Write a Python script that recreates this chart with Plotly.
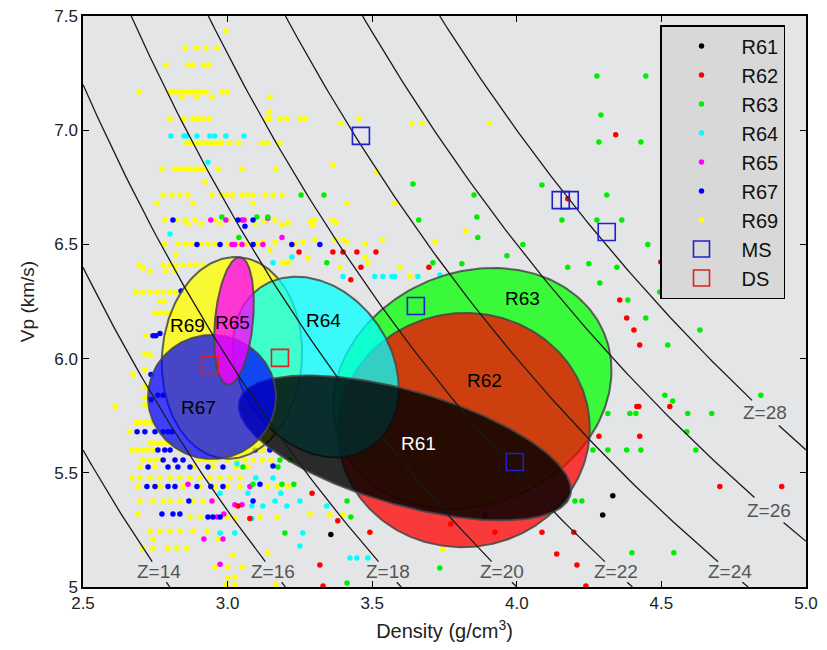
import numpy as np
import plotly.graph_objects as go

# ---------------- data ----------------
r61 = [(4.332, 5.40), (4.297, 5.315), (3.357, 5.23), (3.890, 5.315)]

r62 = [(3.247, 6.467), (3.364, 6.467), (3.399, 6.467), (3.447, 6.467), (3.513, 6.467),
       (3.461, 6.40), (3.696, 6.40), (3.426, 6.345), (4.342, 6.98), (4.176, 6.70),
       (3.292, 5.41), (3.036, 5.355), (3.077, 5.30), (3.381, 5.29), (3.492, 5.24),
       (3.319, 5.096), (3.330, 5.004), (3.772, 5.276), (3.924, 5.24), (4.087, 5.24),
       (4.197, 5.24), (4.138, 5.145), (4.208, 5.096), (4.239, 5.004),
       (4.415, 5.79), (4.422, 5.79), (4.529, 5.79), (4.284, 5.66), (4.425, 5.66),
       (4.702, 5.44), (4.916, 5.44),
       (4.356, 6.257), (4.380, 6.178), (4.405, 6.125), (4.425, 6.06), (4.498, 6.423),
       (4.522, 6.34)]

r63 = [(3.254, 6.716), (3.333, 6.716), (3.641, 6.764), (3.852, 6.716), (3.661, 6.607),
       (3.862, 6.62), (3.865, 6.53), (2.980, 6.62), (3.101, 6.62), (3.139, 6.62),
       (3.039, 6.53), (3.343, 6.42), (3.710, 6.42),
       (4.277, 7.237), (4.446, 7.237), (4.291, 7.067), (4.284, 6.948), (4.429, 6.948),
       (4.087, 6.76), (4.311, 6.716), (4.156, 6.607), (4.277, 6.607), (4.363, 6.607),
       (4.021, 6.50), (4.453, 6.50), (3.966, 6.45), (3.810, 6.415), (4.176, 6.40),
       (4.249, 6.415), (4.346, 6.40),
       (3.181, 5.556), (3.216, 5.556), (3.053, 5.525), (3.174, 5.525), (3.088, 5.45),
       (3.188, 5.45), (3.229, 5.45), (3.413, 5.377), (3.426, 5.306), (3.198, 5.236),
       (3.734, 5.083), (3.413, 5.018), (4.201, 5.377), (4.225, 5.377), (4.398, 5.15),
       (4.512, 5.84), (4.539, 5.814), (4.844, 5.84), (4.315, 5.76), (4.391, 5.76),
       (4.412, 5.76), (4.591, 5.76), (4.674, 5.76), (4.588, 5.68), (4.263, 5.60),
       (4.315, 5.60), (4.380, 5.60), (4.429, 5.60), (4.619, 5.60), (4.543, 5.15),
       (4.287, 6.331), (4.384, 6.257), (4.446, 6.178), (4.494, 6.292), (4.522, 6.06),
       (4.633, 6.125)]

r64 = [(2.804, 6.975), (2.849, 6.975), (2.859, 6.975), (2.894, 6.975), (2.939, 6.975),
       (2.956, 6.975), (2.994, 6.975), (3.057, 6.975), (2.932, 6.86), (2.801, 6.545),
       (3.222, 6.445), (3.157, 6.42), (3.399, 6.36), (3.509, 6.36), (3.537, 6.36),
       (3.568, 6.36), (3.578, 6.36), (3.658, 6.36), (3.734, 6.366),
       (3.032, 5.54), (3.098, 5.477), (3.157, 5.477), (2.974, 5.41), (3.070, 5.41),
       (3.184, 5.41), (3.084, 5.355), (3.122, 5.355), (3.164, 5.377), (3.205, 5.355),
       (3.250, 5.377), (3.343, 5.355), (3.084, 5.30), (2.974, 5.236), (3.025, 5.236),
       (3.260, 5.236), (3.250, 5.18), (3.423, 5.127), (3.447, 5.127), (3.485, 5.127)]

r65 = [(2.942, 6.607), (2.994, 6.607), (3.050, 6.607), (3.057, 6.607), (3.139, 6.615),
       (3.015, 6.50), (3.025, 6.50), (3.050, 6.50), (3.122, 6.50), (3.188, 6.53),
       (2.863, 5.45), (3.077, 5.44), (2.946, 5.377), (3.050, 5.36), (3.025, 5.36),
       (2.963, 5.306), (2.987, 5.32), (2.918, 5.21), (2.984, 5.21), (2.974, 5.10)]

r67 = [(2.811, 6.607), (3.036, 6.607), (3.088, 6.607), (3.060, 6.58),
       (2.894, 6.50), (2.974, 6.50), (3.088, 6.50), (3.222, 6.50), (3.319, 6.50),
       (2.839, 6.296), (2.742, 6.10), (2.752, 6.10), (2.766, 6.11), (2.735, 5.93),
       (2.759, 5.84), (2.777, 5.84), (2.735, 5.82),
       (2.687, 5.68), (2.714, 5.68), (2.749, 5.68), (2.777, 5.68), (2.794, 5.68), (2.808, 5.68),
       (2.759, 5.60), (2.783, 5.60), (2.801, 5.60), (3.095, 5.60), (3.146, 5.60),
       (2.777, 5.556), (2.818, 5.556), (2.846, 5.556), (3.157, 5.53),
       (2.725, 5.525), (2.794, 5.525), (2.828, 5.525), (2.870, 5.525), (2.932, 5.525), (2.984, 5.525),
       (2.721, 5.44), (2.749, 5.44), (2.794, 5.44), (2.818, 5.44), (2.894, 5.44), (2.942, 5.44),
       (2.984, 5.44), (3.112, 5.45), (2.866, 5.377), (3.088, 5.377),
       (2.773, 5.32), (2.811, 5.32), (2.835, 5.32), (2.932, 5.306), (2.949, 5.306), (2.974, 5.306)]

r69 = [(2.994, 7.434),
       (2.853, 7.36), (2.891, 7.36), (2.925, 7.36), (2.963, 7.36),
       (2.787, 7.285), (2.863, 7.285), (2.880, 7.285), (2.918, 7.285), (2.936, 7.285),
       (2.694, 7.167), (2.801, 7.167), (2.815, 7.167), (2.829, 7.167), (2.846, 7.167), (2.860, 7.167),
       (2.870, 7.167), (2.884, 7.167), (2.898, 7.167), (2.912, 7.167), (2.926, 7.167), (2.981, 7.167),
       (2.998, 7.167), (2.842, 7.145), (2.894, 7.145), (2.946, 7.145), (3.146, 7.145), (3.143, 7.08),
       (2.801, 7.05), (2.849, 7.05), (2.880, 7.05), (2.898, 7.05), (2.915, 7.05), (2.936, 7.05),
       (3.136, 7.05), (3.146, 7.05), (3.181, 7.05), (3.205, 7.05), (3.250, 7.05), (3.267, 7.05),
       (3.454, 7.05), (3.392, 7.03), (3.637, 7.03), (3.672, 7.03), (3.905, 7.03),
       (2.859, 6.944), (2.877, 6.944), (2.894, 6.944), (2.911, 6.944), (2.929, 6.944), (2.946, 6.944),
       (2.963, 6.944), (2.980, 6.944), (3.008, 6.944), (3.039, 6.944), (3.119, 6.944), (3.139, 6.944),
       (3.181, 6.944), (2.922, 6.773),
       (2.773, 6.83), (2.818, 6.83), (2.835, 6.83), (2.853, 6.83), (2.870, 6.83), (2.887, 6.83),
       (2.904, 6.83), (2.918, 6.83), (2.967, 6.83), (3.050, 6.83), (3.167, 6.83), (3.516, 6.817),
       (3.364, 6.848),
       (2.777, 6.716), (2.808, 6.716), (2.835, 6.716), (2.863, 6.716), (2.946, 6.716), (2.980, 6.716),
       (2.998, 6.716), (3.018, 6.716), (3.050, 6.716), (3.070, 6.716), (3.088, 6.716), (3.129, 6.716),
       (3.157, 6.716), (3.188, 6.716),
       (2.756, 6.68), (2.880, 6.68), (3.088, 6.68), (3.413, 6.68), (3.578, 6.68), (3.824, 6.56),
       (2.783, 6.607), (2.822, 6.607), (2.853, 6.607), (2.863, 6.59), (2.887, 6.607), (2.908, 6.59),
       (2.956, 6.607), (2.973, 6.59), (3.001, 6.607), (3.060, 6.607), (3.095, 6.59), (3.129, 6.60),
       (3.164, 6.607), (3.188, 6.585), (3.209, 6.595), (3.285, 6.60), (3.302, 6.607), (3.295, 6.585),
       (3.361, 6.607), (3.375, 6.595),
       (2.783, 6.502), (2.828, 6.502), (2.853, 6.502), (2.873, 6.502), (2.908, 6.502), (2.932, 6.502),
       (2.956, 6.502), (3.001, 6.502), (3.036, 6.502), (3.063, 6.502), (3.105, 6.502), (3.122, 6.51),
       (3.164, 6.51), (3.232, 6.502), (3.260, 6.51), (3.302, 6.52), (3.371, 6.52), (3.399, 6.52),
       (3.413, 6.51), (3.475, 6.502), (3.534, 6.52), (3.717, 6.51),
       (3.146, 6.475), (3.278, 6.44), (3.475, 6.445), (3.485, 6.42), (3.191, 6.42), (3.209, 6.42),
       (3.596, 6.40), (3.388, 6.40), (3.655, 6.36), (3.630, 6.36), (2.821, 6.454),
       (2.694, 6.41), (2.707, 6.397), (2.732, 6.384), (2.777, 6.41), (2.801, 6.41), (2.821, 6.41),
       (2.846, 6.41), (2.870, 6.41), (2.891, 6.41), (2.915, 6.41), (2.787, 6.384), (2.818, 6.384),
       (2.683, 6.29), (2.707, 6.29), (2.732, 6.29), (2.756, 6.29), (2.777, 6.29), (2.801, 6.29),
       (2.821, 6.29), (2.766, 6.25), (2.783, 6.25),
       (2.749, 6.20), (2.766, 6.20), (2.783, 6.20), (2.801, 6.20), (2.818, 6.20),
       (2.718, 6.10), (2.714, 6.02), (2.732, 6.016), (2.673, 5.93), (2.714, 5.95), (2.714, 5.876),
       (2.714, 5.83), (2.714, 5.797), (2.611, 5.79),
       (2.683, 5.72), (2.697, 5.72), (2.714, 5.72), (2.732, 5.72), (2.662, 5.68),
       (2.732, 5.63), (2.749, 5.63), (2.766, 5.63), (2.783, 5.63), (2.801, 5.63), (2.818, 5.63),
       (2.835, 5.63),
       (2.669, 5.60), (2.687, 5.60), (2.707, 5.60), (2.725, 5.60), (2.742, 5.60), (2.835, 5.60),
       (2.870, 5.60), (2.904, 5.60), (2.939, 5.60), (2.974, 5.60), (3.018, 5.60), (3.067, 5.60),
       (3.101, 5.60), (3.122, 5.60),
       (2.707, 5.556), (2.730, 5.556), (2.750, 5.556), (2.770, 5.556), (2.900, 5.556), (2.920, 5.556),
       (2.940, 5.556), (2.960, 5.556), (3.000, 5.556), (3.030, 5.556), (3.060, 5.556), (3.090, 5.556),
       (3.120, 5.556), (3.150, 5.556),
       (2.697, 5.525), (2.749, 5.525), (2.880, 5.525), (2.949, 5.525), (3.029, 5.525), (3.070, 5.525),
       (2.669, 5.477), (2.697, 5.477), (2.732, 5.477), (2.766, 5.477), (2.801, 5.477), (2.835, 5.477),
       (2.870, 5.477), (2.904, 5.477), (2.939, 5.477), (2.974, 5.477), (3.008, 5.477), (3.043, 5.477),
       (2.690, 5.44), (2.766, 5.44), (2.846, 5.44), (2.904, 5.44), (2.956, 5.44), (3.001, 5.44),
       (3.043, 5.44), (3.139, 5.44), (3.171, 5.44), (3.209, 5.44),
       (2.697, 5.377), (2.742, 5.377), (2.777, 5.377), (2.801, 5.377), (2.835, 5.377), (2.880, 5.377),
       (2.915, 5.377), (2.949, 5.377),
       (3.285, 5.32), (3.354, 5.316), (3.399, 5.316),
       (2.690, 5.32), (2.870, 5.306), (2.904, 5.306), (2.998, 5.306), (3.025, 5.30), (3.112, 5.306),
       (3.171, 5.306),
       (2.732, 5.245), (2.766, 5.245), (2.801, 5.245), (2.835, 5.245), (2.880, 5.245), (2.929, 5.245),
       (2.967, 5.21), (2.742, 5.21),
       (2.707, 5.17), (2.742, 5.17), (2.794, 5.17), (2.825, 5.17), (2.859, 5.17),
       (3.139, 5.15), (3.018, 5.14), (2.956, 5.088), (3.001, 5.088), (3.050, 5.088),
       (3.001, 5.04), (3.025, 5.044), (2.994, 5.01), (3.025, 5.01), (3.167, 5.01), (3.744, 5.166)]

ms_rho = [3.461, 4.152, 4.183, 4.311, 3.651, 3.993]
ms_vp = [6.975, 6.694, 6.694, 6.554, 6.230, 5.547]
ds_rho = [2.939, 3.181]
ds_vp = [5.972, 6.003]

# impedance iso-lines Z = density * Vp
z_levels = [14, 16, 18, 20, 22, 24, 26, 28]
z_label_vp = [5.066, 5.066, 5.066, 5.066, 5.066, 5.066, 5.337, 5.762]

# region ellipses: centre (density, Vp)
ell_names = ["R69", "R63", "R62", "R64", "R61", "R67", "R65"]
ell_rho = [3.015, 3.846, 3.817, 3.305, 3.613, 2.946, 3.022]
ell_vp = [6.003, 5.869, 5.687, 5.963, 5.609, 5.832, 6.165]

# ---------------- styling / geometry ----------------
W, H = 827, 650
# the page body adds an 8 px offset, so margins are reduced by 8 at left/top
ML, MR, MT, MB = 75, 29, 8, 71
X0, X1, Y0, Y1 = 2.5, 5.0, 5.0, 7.5
SX = (W - ML - MR) / (X1 - X0)   # px per g/cm3
SY = (H - MT - MB) / (Y1 - Y0)   # px per km/s

ell_a = [101, 143, 126, 97, 172, 64, 64]
ell_b = [70, 116, 117, 75, 57, 62, 19]
ell_ang = [-86, -23, -5, 55, 16, 0, -84.6]
ell_fill = ["rgba(255,255,0,0.78)", "rgba(0,255,0,0.75)", "rgba(255,0,0,0.75)",
            "rgba(0,255,255,0.75)", "rgba(0,0,0,0.82)", "rgba(0,0,255,0.72)",
            "rgba(255,0,255,0.78)"]

colors = {"R61": "#000000", "R62": "#ff0000", "R63": "#00ee00", "R64": "#00ffff",
          "R65": "#ff00ff", "R67": "#0000ff", "R69": "#ffff00"}
series = {"R61": r61, "R62": r62, "R63": r63, "R64": r64, "R65": r65, "R67": r67, "R69": r69}
draw_order = ["R69", "R64", "R65", "R63", "R62", "R61", "R67"]
legend_rank = {"R61": 1, "R62": 2, "R63": 3, "R64": 4, "R65": 5, "R67": 6, "R69": 7}

fig = go.Figure()

for name in draw_order:
    pts = series[name]
    fig.add_trace(go.Scatter(
        x=[p[0] for p in pts], y=[p[1] for p in pts], mode="markers", name=name,
        marker=dict(color=colors[name], size=5.5, line=dict(width=0)),
        legendrank=legend_rank[name], hoverinfo="skip"))

t = np.linspace(0, 2 * np.pi, 240)
for i, nm in enumerate(ell_names):
    th = np.deg2rad(ell_ang[i])
    dx = ell_a[i] * np.cos(t) * np.cos(th) - ell_b[i] * np.sin(t) * np.sin(th)
    dy = ell_a[i] * np.cos(t) * np.sin(th) + ell_b[i] * np.sin(t) * np.cos(th)
    fig.add_trace(go.Scatter(
        x=ell_rho[i] + dx / SX, y=ell_vp[i] - dy / SY, mode="lines", fill="toself",
        fillcolor=ell_fill[i], line=dict(color="rgba(70,70,70,0.85)", width=2),
        showlegend=False, hoverinfo="skip"))

# iso-impedance lines with gaps for their labels
lx, ly = [], []
for z, vl in zip(z_levels, z_label_vp):
    vmin, vmax = max(Y0, z / X1), min(Y1, z / X0)
    gap = 0.045 if vl < 5.1 else 0.055
    for a, b in [(vmin, vl - gap), (vl + gap, vmax)]:
        if b > a:
            v = np.linspace(a, b, 80)
            lx += list(z / v) + [None]
            ly += list(v) + [None]
fig.add_trace(go.Scatter(x=lx, y=ly, mode="lines", line=dict(color="#1a1a1a", width=1.3),
                         showlegend=False, hoverinfo="skip"))

fig.add_trace(go.Scatter(x=ms_rho, y=ms_vp, mode="markers", name="MS", legendrank=8,
                         marker=dict(symbol="square-open", size=17, color="#1f1fcc",
                                     line=dict(width=1.6, color="#1f1fcc"))))
fig.add_trace(go.Scatter(x=ds_rho, y=ds_vp, mode="markers", name="DS", legendrank=9,
                         marker=dict(symbol="square-open", size=17, color="#dd2222",
                                     line=dict(width=1.6, color="#dd2222"))))

ann = []
for z, vl in zip(z_levels, z_label_vp):
    ann.append(dict(x=z / vl, y=vl, text=f"Z={z}", showarrow=False,
                    font=dict(size=19, color="#555555")))
lab_pos = {"R61": (3.661, 5.630), "R62": (3.890, 5.902), "R63": (4.021, 6.261),
           "R64": (3.330, 6.169), "R65": (3.018, 6.160), "R69": (2.863, 6.147),
           "R67": (2.898, 5.784)}
for nm, (x, y) in lab_pos.items():
    ann.append(dict(x=x, y=y, text=nm, showarrow=False,
                    font=dict(size=19, color="white" if nm == "R61" else "black")))

axis_common = dict(showline=True, linecolor="black", linewidth=1.5, mirror="ticks",
                   ticks="inside", ticklen=6, tickcolor="black", showgrid=False,
                   zeroline=False, automargin=False, ticklabeloverflow="allow",
                   tickfont=dict(size=17, color="#222"))
fig.update_layout(
    width=W, height=H, margin=dict(l=ML, r=MR, t=MT, b=MB, autoexpand=False),
    paper_bgcolor="white", plot_bgcolor="#e4e5e7",
    font=dict(family="Liberation Sans, Arial, sans-serif", color="#222"),
    annotations=ann,
    xaxis=dict(range=[X0, X1], tickvals=[2.5, 3.0, 3.5, 4.0, 4.5, 5.0],
               ticktext=["2.5", "3.0", "3.5", "4.0", "4.5", "5.0"],
               title=dict(text="Density (g/cm<sup>3</sup>)", font=dict(size=20), standoff=12),
               **axis_common),
    yaxis=dict(range=[Y0, Y1], tickvals=[5.0, 5.5, 6.0, 6.5, 7.0, 7.5],
               ticktext=["5", "5.5", "6.0", "6.5", "7.0", "7.5"],
               title=dict(text="Vp (km/s)", font=dict(size=19), standoff=15),
               **axis_common),
    legend=dict(x=(660 - 83) / (W - ML - MR), y=1 - (25 - 16) / (H - MT - MB),
                xanchor="left", yanchor="top", bgcolor="#d8d8d8", bordercolor="black",
                borderwidth=1.5, font=dict(size=20, color="#111"), itemwidth=70,
                tracegroupgap=0),
)

fig.write_html("out.html")
